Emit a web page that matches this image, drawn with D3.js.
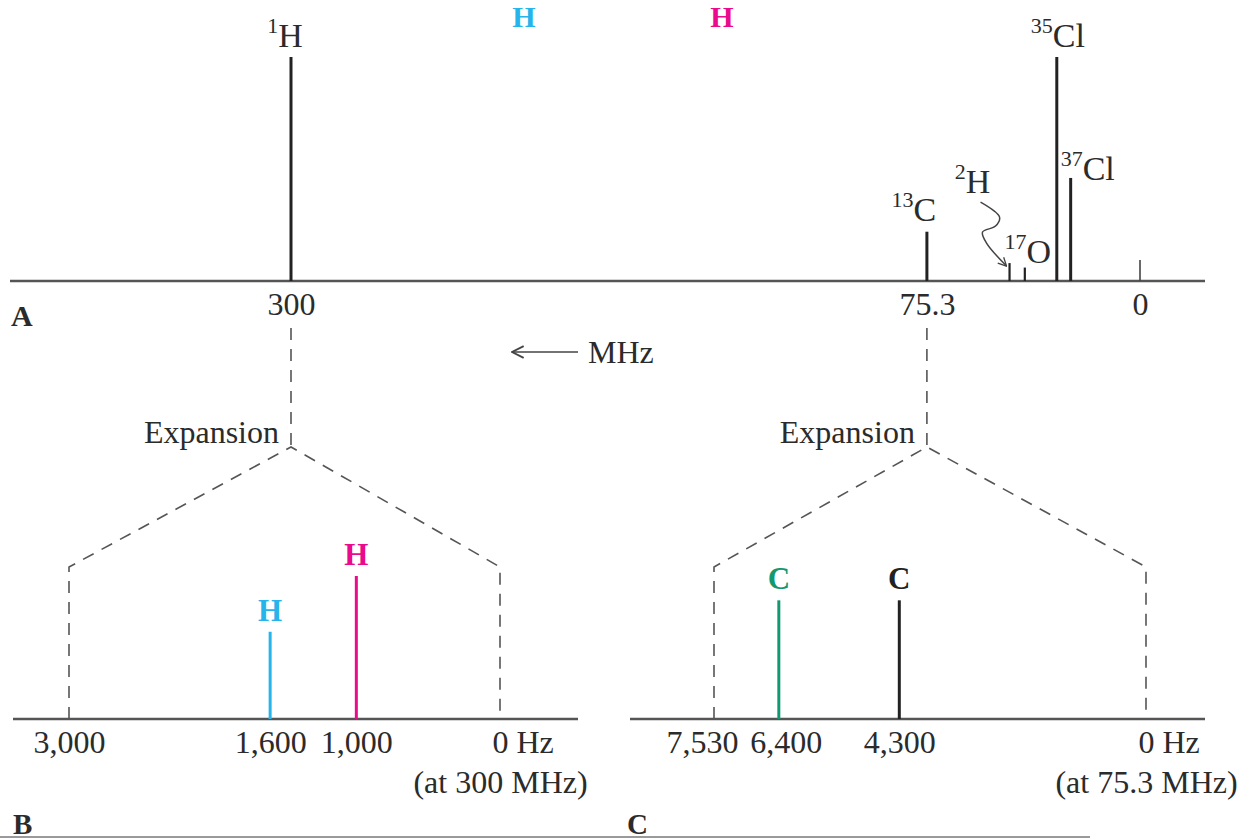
<!DOCTYPE html>
<html><head><meta charset="utf-8">
<script src="https://cdn.jsdelivr.net/npm/d3@7"></script>
<style>
body{margin:0;background:#fff}
svg{display:block}
text{font-family:"Liberation Serif","Times New Roman",serif;fill:#2b2b2b}
</style></head><body>
<svg id="chart" width="1242" height="839"></svg>
<script>
// ---------- DATA ----------
// Panel A: NMR frequencies (MHz) at 7.05 T
const nucleiA    = ["1H", "13C", "2H", "17O", "35Cl", "37Cl"];
const massA      = ["1", "13", "2", "17", "35", "37"];
const elementA   = ["H", "C", "H", "O", "Cl", "Cl"];
const freqA      = [300, 75.3, 46.1, 40.7, 29.4, 24.5];
const intensityA = [100, 22, 8, 6, 100, 46];
const ticksA      = [300, 75.3, 0];
const tickLabelsA = ["300", "75.3", "0"];

// Panel B: 1H expansion (Hz at 300 MHz)
const labelsB    = ["H", "H"];
const hzB        = [1600, 1000];
const intensityB = [61, 100];
const ticksB      = [3000, 1600, 1000, 0];
const tickLabelsB = ["3,000", "1,600", "1,000", "0 Hz"];
const subLabelB   = "(at 300 MHz)";

// Panel C: 13C expansion (Hz at 75.3 MHz)
const labelsC    = ["C", "C"];
const hzC        = [6400, 4300];
const intensityC = [83, 83];
const ticksC      = [7530, 6400, 4300, 0];
const tickLabelsC = ["7,530", "6,400", "4,300", "0 Hz"];
const subLabelC   = "(at 75.3 MHz)";

const topLabels = ["H", "H"];

// ---------- STYLE / LAYOUT ----------
const cyan = "#27b4ea", magenta = "#ea0a8c", green = "#12996f", ink = "#222";
const colorsB = [cyan, magenta];
const colorsC = [green, ink];
const topColors = [cyan, magenta];
const topX = [524, 722];
const FS = "32px";

const svg = d3.select("#chart");
const defs = svg.append("defs");
function marker(id, size) {
  defs.append("marker").attr("id", id)
    .attr("viewBox", "0 0 12 12").attr("refX", 11).attr("refY", 6)
    .attr("markerUnits", "userSpaceOnUse")
    .attr("markerWidth", size).attr("markerHeight", size)
    .attr("orient", "auto")
    .append("path").attr("d", "M1,1 L11,6 L1,11")
    .attr("fill", "none").attr("stroke", "#444").attr("stroke-width", 1.6);
}
marker("arrowBig", 14);
marker("arrowSmall", 10);

const baseA = 281, baseBC = 719;
const xA = d3.scaleLinear().domain([300, 0]).range([291, 1140]);
const yA = d3.scaleLinear().domain([0, 100]).range([baseA, 57]);
const xB = d3.scaleLinear().domain([3000, 0]).range([69, 500]);
const xC = d3.scaleLinear().domain([7530, 0]).range([714, 1146]);
const yBC = d3.scaleLinear().domain([0, 100]).range([baseBC, 576]);

// label offsets for panel A (layout only)
const labelOffA = {
  "1H":   {dx: -6,  dy: -10, anchor: "middle"},
  "13C":  {dx: -13, dy: -11, anchor: "middle"},
  "2H":   {dx: -37, dy: -70, anchor: "middle"},
  "17O":  {dx: 3,   dy: -5,  anchor: "middle"},
  "35Cl": {dx: 1,   dy: -10, anchor: "middle"},
  "37Cl": {dx: -10, dy: 2,   anchor: "start"}
};

// ---------- PANEL A ----------
const gA = svg.append("g");
gA.append("line").attr("x1", 10).attr("x2", 1205).attr("y1", baseA).attr("y2", baseA)
  .attr("stroke", "#555").attr("stroke-width", 2.5);
// reference tick at 0
gA.append("line").attr("x1", xA(0)).attr("x2", xA(0)).attr("y1", baseA).attr("y2", baseA - 21)
  .attr("stroke", "#444").attr("stroke-width", 1.6);

gA.selectAll("line.peak").data(freqA).join("line").attr("class", "peak")
  .attr("x1", d => xA(d)).attr("x2", d => xA(d))
  .attr("y1", baseA).attr("y2", (d, i) => yA(intensityA[i]))
  .attr("stroke", ink).attr("stroke-width", (d, i) => intensityA[i] > 15 ? 3 : 2.2);

const labA = gA.selectAll("text.plab").data(nucleiA).join("text").attr("class", "plab")
  .attr("x", (d, i) => xA(freqA[i]) + labelOffA[d].dx)
  .attr("y", (d, i) => yA(intensityA[i]) + labelOffA[d].dy)
  .attr("text-anchor", d => labelOffA[d].anchor)
  .style("font-size", "34px");
labA.append("tspan").text((d, i) => massA[i]).style("font-size", "22px").attr("dy", -14);
labA.append("tspan").text((d, i) => elementA[i]).attr("dy", 14);

// wavy arrow for 2H
{
  const i = nucleiA.indexOf("2H");
  const px = xA(freqA[i]), py = yA(intensityA[i]);
  const rel = [[-29, -61], [-10, -46], [-14, -37], [-27, -31], [-23, -20], [-3, 3]];
  const line = d3.line().curve(d3.curveCatmullRom.alpha(0.5));
  gA.append("path").attr("d", line(rel.map(p => [px + p[0], py + p[1]])))
    .attr("fill", "none").attr("stroke", "#444").attr("stroke-width", 1.5)
    .attr("marker-end", "url(#arrowSmall)");
}

// axis A
const axA = gA.append("g").attr("transform", `translate(0,${baseA})`)
  .call(d3.axisBottom(xA).tickValues(ticksA).tickSize(0).tickFormat((d, i) => tickLabelsA[i]));
axA.select(".domain").remove();
axA.selectAll("text").attr("dy", null).attr("y", 34)
  .style("font-size", FS).style("font-family", "Liberation Serif").attr("fill", "#2b2b2b");

gA.append("text").attr("x", 11).attr("y", 326).text("A")
  .style("font-size", "30px").style("font-weight", "bold");

// MHz arrow
gA.append("line").attr("x1", 578).attr("x2", 512).attr("y1", 352).attr("y2", 352)
  .attr("stroke", "#444").attr("stroke-width", 1.6).attr("marker-end", "url(#arrowBig)");
gA.append("text").attr("x", 588).attr("y", 363).text("MHz").style("font-size", FS);

// top coloured labels
svg.selectAll("text.top").data(topLabels).join("text").attr("class", "top")
  .attr("x", (d, i) => topX[i]).attr("y", 27).attr("text-anchor", "middle")
  .text(d => d).style("font-size", "30px").style("font-weight", "bold")
  .style("fill", (d, i) => topColors[i]);

// ---------- EXPANSION FRAMES ----------
const dashLine = d3.line();
function expansion(apexX, xs) {
  const g = svg.append("g").attr("fill", "none").attr("stroke", "#555")
    .attr("stroke-width", 1.6).attr("stroke-dasharray", "12,9");
  g.append("path").attr("d", dashLine([[apexX, 328], [apexX, 445]]));
  g.append("path").attr("d", dashLine([[xs.range()[0], baseBC], [xs.range()[0], 567], [apexX, 447],
                                         [xs.range()[1], 567], [xs.range()[1], baseBC]]));
  svg.append("text").attr("x", apexX - 12).attr("y", 443).attr("text-anchor", "end")
    .text("Expansion").style("font-size", FS);
}
expansion(xA(300), xB);
expansion(xA(75.3), xC);

// ---------- PANELS B & C ----------
function panel(xs, x0, x1, hz, ints, labels, colors, ticks, tickLabels, sub, nudge) {
  const g = svg.append("g");
  g.append("line").attr("x1", x0).attr("x2", x1).attr("y1", baseBC).attr("y2", baseBC)
    .attr("stroke", "#555").attr("stroke-width", 2.5);
  g.selectAll("line.pk").data(hz).join("line").attr("class", "pk")
    .attr("x1", d => xs(d)).attr("x2", d => xs(d))
    .attr("y1", baseBC).attr("y2", (d, i) => yBC(ints[i]))
    .attr("stroke", (d, i) => colors[i]).attr("stroke-width", 3);
  g.selectAll("text.pl").data(labels).join("text").attr("class", "pl")
    .attr("x", (d, i) => xs(hz[i])).attr("y", (d, i) => yBC(ints[i]) - 11)
    .attr("text-anchor", "middle").text(d => d)
    .style("font-size", "31px").style("font-weight", "bold")
    .style("fill", (d, i) => colors[i]);
  const ax = g.append("g").attr("transform", `translate(0,${baseBC})`)
    .call(d3.axisBottom(xs).tickValues(ticks).tickSize(0).tickFormat((d, i) => tickLabels[i]));
  ax.select(".domain").remove();
  ax.selectAll("text").attr("dy", null).attr("y", 34)
    .attr("x", d => (nudge[d] || 0))
    .style("font-size", FS).style("font-family", "Liberation Serif").attr("fill", "#2b2b2b");
  ax.selectAll(".tick").filter(d => d === 0).select("text")
    .attr("text-anchor", "start").attr("x", -8);
  ax.selectAll(".tick").filter(d => d === 0).append("text")
    .attr("y", 74).attr("text-anchor", "middle").attr("fill", "#2b2b2b")
    .style("font-size", FS).style("font-family", "Liberation Serif").text(sub);
}
panel(xB, 13, 578, hzB, intensityB, labelsB, colorsB, ticksB, tickLabelsB, subLabelB, {});
panel(xC, 630, 1205, hzC, intensityC, labelsC, colorsC, ticksC, tickLabelsC, subLabelC, {7530: -12, 6400: 7});

// panel letters and bottom rule
svg.append("text").attr("x", 13).attr("y", 834).text("B").style("font-size", "29px").style("font-weight", "bold");
svg.append("text").attr("x", 627).attr("y", 834).text("C").style("font-size", "29px").style("font-weight", "bold");
svg.append("line").attr("x1", 0).attr("x2", 1090).attr("y1", 837).attr("y2", 837)
  .attr("stroke", "#9a9a9a").attr("stroke-width", 2);
</script>
</body></html>
